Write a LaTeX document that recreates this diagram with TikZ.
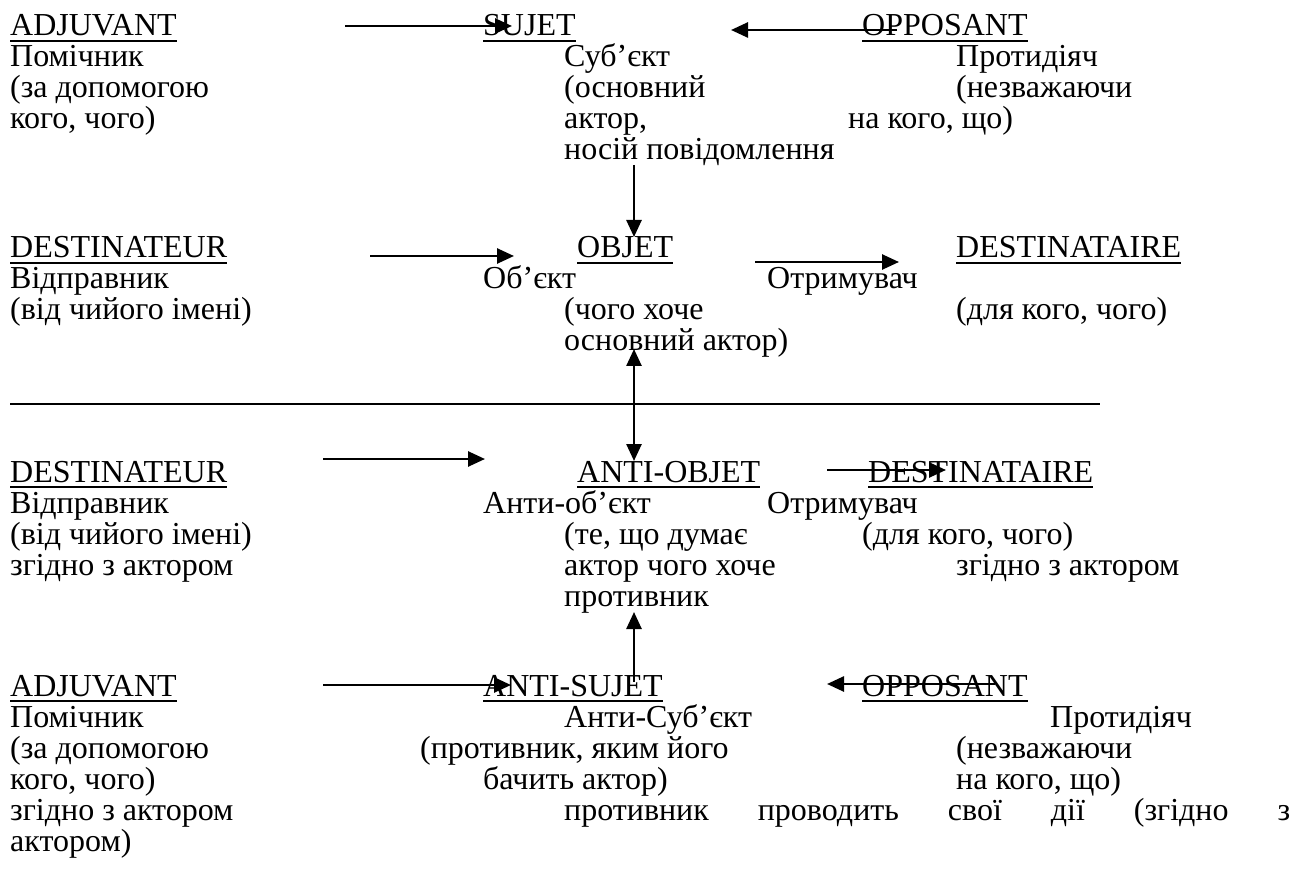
\documentclass[tikz,border=0pt]{standalone}
\usepackage{fontspec}
\setmainfont{Liberation Serif}
\usetikzlibrary{arrows.meta,calc}
\begin{document}
\begin{tikzpicture}[x=1pt,y=-1pt,
  txt/.style={anchor=base west,inner sep=0pt,font=\fontsize{32}{31}\selectfont},
  arr/.style={line width=2.6pt,-{Triangle[length=17pt,width=15pt]}},
  darr/.style={line width=2.6pt,{Triangle[length=17pt,width=15pt]}-{Triangle[length=17pt,width=15pt]}},
  ul/.style={line width=2.2pt}]
\useasboundingbox (0,0) rectangle (1299,885);
% Block 1
\node[txt] (adj1) at (10,36) {ADJUVANT};
\node[txt] (a1l1) at (10,67) {Помічник};
\node[txt] (a1l2) at (10,98) {(за допомогою};
\node[txt] (a1l3) at (10,129) {кого, чого)};
\node[txt] (suj) at (483,36) {SUJET};
\node[txt] (s1) at (564,67) {Суб’єкт};
\node[txt] (s2) at (564,98) {(основний};
\node[txt] (s3) at (564,129) {актор,};
\node[txt] (s4) at (564,160) {носій повідомлення};
\node[txt] (opp1) at (862,36) {OPPOSANT};
\node[txt] (o1) at (956,67) {Протидіяч};
\node[txt] (o2) at (956,98) {(незважаючи};
\node[txt] (o3) at (848,129) {на кого, що)};
% Block 2
\node[txt] (dst1) at (10,258) {DESTINATEUR};
\node[txt] (d1l1) at (10,289) {Відправник};
\node[txt] (d1l2) at (10,320) {(від чийого імені)};
\node[txt] (obj) at (577,258) {OBJET};
\node[txt] (ob1) at (483,289) {Об’єкт};
\node[txt] (ob2) at (564,320) {(чого хоче};
\node[txt] (ob3) at (564,351) {основний актор)};
\node[txt] (dsa1) at (956,258) {DESTINATAIRE};
\node[txt] (r1l1) at (767,289) {Отримувач};
\node[txt] (r1l2) at (956,320) {(для кого, чого)};
% Block 3
\node[txt] (dst2) at (10,482) {DESTINATEUR};
\node[txt] (d2l1) at (10,513) {Відправник};
\node[txt] (d2l2) at (10,544) {(від чийого імені)};
\node[txt] (d2l3) at (10,575) {згідно з актором};
\node[txt] (aobj) at (577,482) {ANTI-OBJET};
\node[txt] (ao1) at (483,513) {Анти-об’єкт};
\node[txt] (ao2) at (564,544) {(те, що думає};
\node[txt] (ao3) at (564,575) {актор чого хоче};
\node[txt] (ao4) at (564,606) {противник};
\node[txt] (dsa2) at (868,482) {DESTINATAIRE};
\node[txt] (r2l1) at (767,513) {Отримувач};
\node[txt] (r2l2) at (862,544) {(для кого, чого)};
\node[txt] (r2l3) at (956,575) {згідно з актором};
% Block 4
\node[txt] (adj2) at (10,696) {ADJUVANT};
\node[txt] (a2l1) at (10,727) {Помічник};
\node[txt] (a2l2) at (10,758) {(за допомогою};
\node[txt] (a2l3) at (10,789) {кого, чого)};
\node[txt] (a2l4) at (10,820) {згідно з актором};
\node[txt] (a2l5) at (10,851) {актором)};
\node[txt] (asuj) at (483,696) {ANTI-SUJET};
\node[txt] (as1) at (564,727) {Анти-Суб’єкт};
\node[txt] (as2) at (420,758) {(противник, яким його};
\node[txt] (as3) at (483,789) {бачить актор)};
\node[txt] (as4) at (564,820) {\makebox[726pt][s]{противник проводить свої дії (згідно з}};
\node[txt] (opp2) at (862,696) {OPPOSANT};
\node[txt] (o21) at (1050,727) {Протидіяч};
\node[txt] (o22) at (956,758) {(незважаючи};
\node[txt] (o23) at (956,789) {на кого, що)};
% underlines
\foreach \n in {adj1,suj,opp1,dst1,obj,dsa1,dst2,aobj,dsa2,adj2,asuj,opp2}{
  \draw[ul] ($(\n.base west)+(0,5)$) -- ($(\n.base east)+(0,5)$);}
% rule
\coordinate (rl) at (10,404);
\coordinate (rr) at (1100,404);
\draw[line width=1.6pt] (rl) -- (rr);
% arrows, block 1
\coordinate (c1) at (345,26);  \coordinate (c1e) at (512,26);
\draw[arr] (c1) -- (c1e);
\coordinate (c2) at (897,30);  \coordinate (c2e) at (731,30);
\draw[arr] (c2) -- (c2e);
\coordinate (c3) at (634,165); \coordinate (c3e) at (634,237);
\draw[arr] (c3) -- (c3e);
% block 2
\coordinate (c4) at (370,256); \coordinate (c4e) at (514,256);
\draw[arr] (c4) -- (c4e);
\coordinate (c5) at (755,262); \coordinate (c5e) at (899,262);
\draw[arr] (c5) -- (c5e);
% between
\coordinate (c6) at (634,349); \coordinate (c6e) at (634,461);
\draw[darr] (c6) -- (c6e);
% block 3
\coordinate (c7) at (323,459); \coordinate (c7e) at (485,459);
\draw[arr] (c7) -- (c7e);
\coordinate (c8) at (827,470); \coordinate (c8e) at (946,470);
\draw[arr] (c8) -- (c8e);
% block 4
\coordinate (c9) at (634,682); \coordinate (c9e) at (634,612);
\draw[arr] (c9) -- (c9e);
\coordinate (c10) at (323,685); \coordinate (c10e) at (511,685);
\draw[arr] (c10) -- (c10e);
\coordinate (c11) at (995,684); \coordinate (c11e) at (827,684);
\draw[arr] (c11) -- (c11e);
\end{tikzpicture}
\end{document}
